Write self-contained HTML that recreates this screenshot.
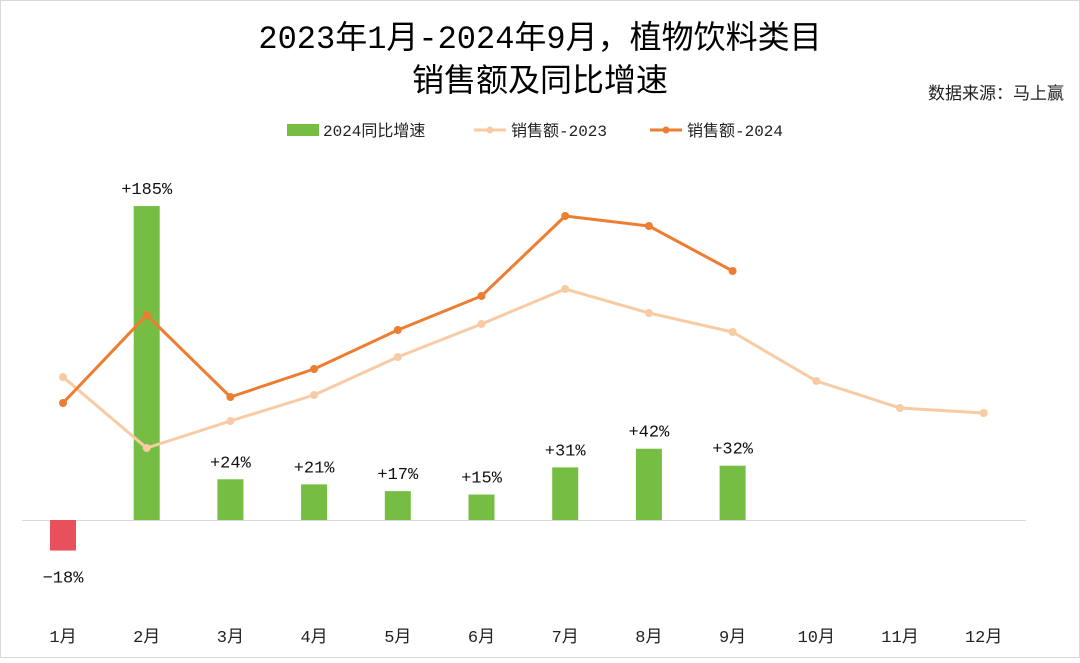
<!DOCTYPE html>
<html><head><meta charset="utf-8"><style>
body{margin:0;background:#fff;}
svg text{font-family:"Liberation Mono","Noto Sans CJK SC",monospace;}
</style></head><body>
<svg id="c" width="1080" height="658" xmlns="http://www.w3.org/2000/svg">
<rect x="0.5" y="0.5" width="1079" height="657" fill="#fff" stroke="#d9d9d9"/>
<text x="540" y="48" text-anchor="middle" font-size="32" fill="#000">2023年1月-2024年9月，植物饮料类目</text>
<text x="540" y="91" text-anchor="middle" font-size="32" fill="#000">销售额及同比增速</text>
<text x="1064" y="99" text-anchor="end" font-size="17" fill="#222">数据来源：马上赢</text>
<g>
<rect x="287" y="124" width="32" height="12" fill="#76bd43"/>
<text x="323" y="136" font-size="16" fill="#222">2024同比增速</text>
<line x1="474" y1="130" x2="506" y2="130" stroke="#f8cba5" stroke-width="3"/>
<circle cx="490" cy="130" r="3.5" fill="#f8cba5"/>
<text x="511" y="136" font-size="16" fill="#222">销售额-2023</text>
<line x1="650" y1="130" x2="682" y2="130" stroke="#ed7d31" stroke-width="3"/>
<circle cx="666" cy="130" r="3.5" fill="#ed7d31"/>
<text x="687" y="136" font-size="16" fill="#222">销售额-2024</text>
</g>
<line x1="22" y1="520.5" x2="1026" y2="520.5" stroke="#d9d9d9" stroke-width="1"/>
<g id="marks"></g>
</svg>
<script>
const categories=["1月","2月","3月","4月","5月","6月","7月","8月","9月","10月","11月","12月"];
const growth=[-18,185,24,21,17,15,31,42,32];
const sales2023=[143,72,99,125,163,196,231,207,188,139,112,107];
const sales2024=[117,205,123,151,190,224,304,294,249];
const NS="http://www.w3.org/2000/svg";
const g=document.getElementById('marks');
const xPos=i=>63+i*83.7;
const yBar=v=>520-v*1.697;
const yLine=v=>520-v;
function mk(t,a){const e=document.createElementNS(NS,t);for(const k in a)e.setAttribute(k,a[k]);g.appendChild(e);return e;}
growth.forEach((v,i)=>{
 const y=yBar(v);
 const r=mk('rect',{x:xPos(i)-13,y:Math.min(y,520),width:26,height:Math.abs(520-y),fill:v<0?'#e8505b':'#76bd43'});
 
 
 const t=mk('text',{x:xPos(i),y:v<0?y+32:y-12,'text-anchor':'middle','font-size':'17',fill:'#111'});
 t.textContent=(v>0?'+':'−')+Math.abs(v)+'%';
 
 
});
function line(data,col,name){
 const p=mk('polyline',{points:data.map((v,i)=>xPos(i)+','+yLine(v)).join(' '),fill:'none',stroke:col,'stroke-width':3,'stroke-linejoin':'round'});
 
 
 data.forEach((v,i)=>{
  const c=mk('circle',{cx:xPos(i),cy:yLine(v),r:4,fill:col});
  
  
 });
}
line(sales2023,'#f8cba5','2023');
line(sales2024,'#ed7d31','2024');
categories.forEach((c,i)=>{
 const t=mk('text',{x:xPos(i),y:642,'text-anchor':'middle','font-size':'17',fill:'#222'});
 t.textContent=c;
 
 
});
</script>
</body></html>
